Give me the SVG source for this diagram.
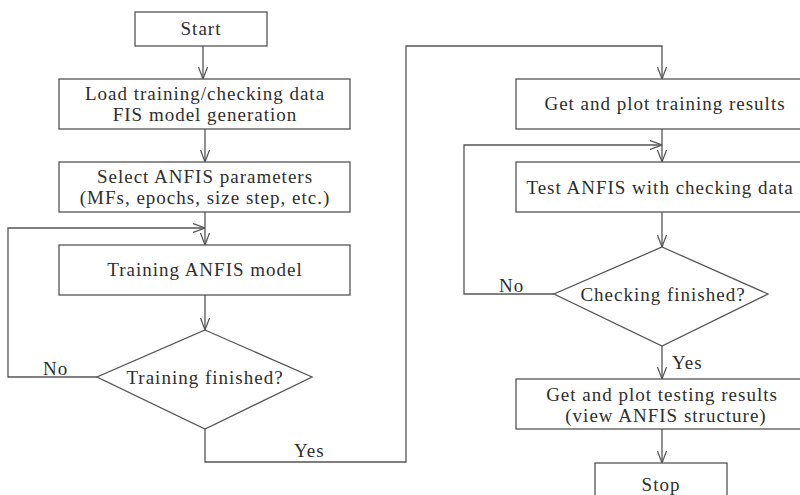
<svg xmlns="http://www.w3.org/2000/svg" width="800" height="495" viewBox="0 0 800 495">
  <style>
    .box { fill: #ffffff; stroke: #555555; stroke-width: 1.3; }
    .edge { fill: none; stroke: #555555; stroke-width: 1.3; }
    text { font-family: "Liberation Serif", "Times New Roman", serif; font-size: 19px; letter-spacing: 1px; fill: #2e2e2e; text-anchor: middle; }
    .lbl { text-anchor: start; }
  </style>
  <defs>
    <marker id="arrow" viewBox="0 0 12 10" refX="12" refY="5" markerWidth="12" markerHeight="10" markerUnits="userSpaceOnUse" orient="auto">
      <path d="M0,0.5 L12,5 L0,9.5" fill="none" stroke="#555555" stroke-width="1.2"/>
    </marker>
  </defs>
  <rect width="800" height="495" fill="#ffffff"/>

  <!-- connectors -->
  <g id="connectors">
    <path class="edge" d="M203,46 V79" marker-end="url(#arrow)"/>
    <path class="edge" d="M205,129 V162" marker-end="url(#arrow)"/>
    <path class="edge" d="M205,212 V245" marker-end="url(#arrow)"/>
    <path class="edge" d="M97,377 H8 V228 H205" marker-end="url(#arrow)"/>
    <path class="edge" d="M205,295 V330" marker-end="url(#arrow)"/>
    <path class="edge" d="M205,429 V462 H406 V46 H662 V79" marker-end="url(#arrow)"/>
    <path class="edge" d="M662,129 V162" marker-end="url(#arrow)"/>
    <path class="edge" d="M554,294 H464 V145 H662" marker-end="url(#arrow)"/>
    <path class="edge" d="M662,212 V247" marker-end="url(#arrow)"/>
    <path class="edge" d="M662,346 V379" marker-end="url(#arrow)"/>
    <path class="edge" d="M662,429 V463" marker-end="url(#arrow)"/>
    <text class="lbl" x="43" y="375">No</text>
    <text class="lbl" x="294" y="457">Yes</text>
    <text class="lbl" x="499" y="292">No</text>
    <text class="lbl" x="672" y="369">Yes</text>
  </g>

  <!-- left column -->
  <g id="start">
    <rect class="box" x="135" y="12" width="132" height="34"/>
    <text x="201" y="35">Start</text>
  </g>
  <g id="load-data">
    <rect class="box" x="59" y="79" width="291" height="50"/>
    <text x="205" y="99.5">Load training/checking data</text>
    <text x="205" y="121">FIS model generation</text>
  </g>
  <g id="select-params">
    <rect class="box" x="59" y="162" width="291" height="50"/>
    <text x="205" y="182.5">Select ANFIS parameters</text>
    <text x="205" y="204">(MFs, epochs, size step, etc.)</text>
  </g>
  <g id="train-model">
    <rect class="box" x="59" y="245" width="291" height="50"/>
    <text x="205" y="276">Training ANFIS model</text>
  </g>
  <g id="training-finished">
    <polygon class="box" points="205,330 312,377 205,429 97,377"/>
    <text x="205" y="384">Training finished?</text>
  </g>

  <!-- right column -->
  <g id="training-results">
    <rect class="box" x="516" y="79" width="292" height="50"/>
    <text x="665" y="110">Get and plot training results</text>
  </g>
  <g id="test-anfis">
    <rect class="box" x="516" y="162" width="292" height="50"/>
    <text x="660" y="194">Test ANFIS with checking data</text>
  </g>
  <g id="checking-finished">
    <polygon class="box" points="662,247 768,294 662,346 554,294"/>
    <text x="663" y="301">Checking finished?</text>
  </g>
  <g id="testing-results">
    <rect class="box" x="516" y="379" width="292" height="50"/>
    <text x="662" y="400.5">Get and plot testing results</text>
    <text x="666" y="422">(view ANFIS structure)</text>
  </g>
  <g id="stop">
    <rect class="box" x="595" y="463" width="132" height="40"/>
    <text x="661" y="491">Stop</text>
  </g>
</svg>
